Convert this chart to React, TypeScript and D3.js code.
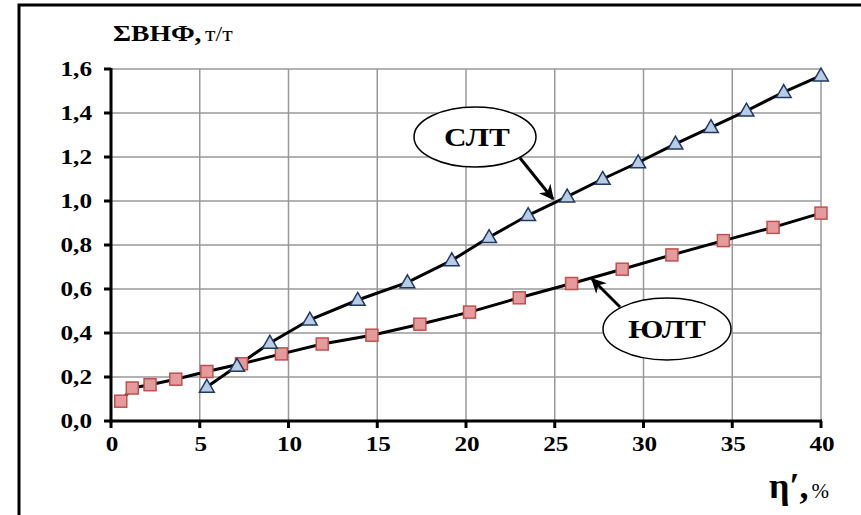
import React from "react";
import * as d3 from "d3";

// СЛТ (triangles)
const sltX = [5.4, 7.1, 8.95, 11.2, 13.9, 16.7, 19.2, 21.3, 23.5, 25.7, 27.7, 29.7, 31.8, 33.8, 35.8, 37.9, 40.0];
const sltY = [0.155, 0.25, 0.355, 0.46, 0.55, 0.63, 0.73, 0.835, 0.935, 1.02, 1.10, 1.175, 1.26, 1.335, 1.41, 1.495, 1.57];

// ЮЛТ (squares)
const yultX = [0.55, 1.2, 2.2, 3.65, 5.4, 7.35, 9.6, 11.9, 14.7, 17.4, 20.2, 23.0, 25.95, 28.8, 31.6, 34.5, 37.3, 40.0];
const yultY = [0.09, 0.15, 0.165, 0.19, 0.225, 0.26, 0.305, 0.35, 0.39, 0.44, 0.495, 0.56, 0.625, 0.69, 0.755, 0.82, 0.88, 0.945];

const xTicks = [0, 5, 10, 15, 20, 25, 30, 35, 40];
const yTicks = [0, 0.2, 0.4, 0.6, 0.8, 1.0, 1.2, 1.4, 1.6];

const FONT = "Liberation Serif, DejaVu Serif, serif";

// the source picture is a bit stretched sideways, so text is widened too
const T = ({ x, y, anchor = "start", size, sx = 1.2, bold = true, children }: any) => (
  <text transform={`translate(${x},${y}) scale(${sx},1)`} textAnchor={anchor}
    fontWeight={bold ? "bold" : "normal"} fontSize={size}>
    {children}
  </text>
);

export default function App() {
  const x = d3.scaleLinear().domain([0, 40]).range([111, 821]);
  const y = d3.scaleLinear().domain([0, 1.6]).range([421, 69]);
  const line = d3.line<[number, number]>().x(d => x(d[0])).y(d => y(d[1]));
  const slt = sltX.map((v, i) => [v, sltY[i]] as [number, number]);
  const yult = yultX.map((v, i) => [v, yultY[i]] as [number, number]);
  const fmt = (v: number) => v.toFixed(1).replace(".", ",");
  const tri = d3.symbol().type(d3.symbolTriangle).size(95)();

  return (
    <svg width={861} height={515} style={{ position: "absolute", left: 0, top: 0, background: "#fff", fontFamily: FONT }}>
      <defs>
        <marker id="arr" viewBox="0 0 10 10" refX="9" refY="5" markerWidth="5" markerHeight="5" orient="auto">
          <path d="M0,0 L10,5 L0,10 L3,5 Z" fill="#000" />
        </marker>
      </defs>
      {/* outer frame */}
      <path d="M19,515 L19,5 L861,5" fill="none" stroke="#000" strokeWidth={3} />

      {/* grid */}
      {yTicks.slice(1).map(t => (
        <line key={"gy" + t} x1={x(0)} x2={x(40)} y1={y(t)} y2={y(t)} stroke="#999" strokeWidth={1.5} />
      ))}
      {xTicks.slice(1).map(t => (
        <line key={"gx" + t} x1={x(t)} x2={x(t)} y1={y(0)} y2={y(1.6)} stroke="#999" strokeWidth={1.5} />
      ))}

      {/* axes */}
      <line x1={x(0)} x2={x(0)} y1={y(0) + 1.5} y2={y(1.6) - 1} stroke="#000" strokeWidth={3} />
      <line x1={x(0) - 1.5} x2={x(40) + 1} y1={y(0)} y2={y(0)} stroke="#000" strokeWidth={3} />
      {yTicks.map(t => (
        <g key={"ty" + t}>
          <line x1={x(0) - 7} x2={x(0)} y1={y(t)} y2={y(t)} stroke="#000" strokeWidth={3} />
          <T x={92} y={y(t) + 7} anchor="end" size={21}>{fmt(t)}</T>
        </g>
      ))}
      {xTicks.map(t => (
        <g key={"tx" + t}>
          <line x1={x(t)} x2={x(t)} y1={y(0)} y2={y(0) + 7} stroke="#000" strokeWidth={3} />
          <T x={x(t) + 1} y={451} anchor="middle" size={21}>{t}</T>
        </g>
      ))}

      {/* axis titles */}
      <T x={113} y={41} size={23}>
        <tspan>ΣВНФ,</tspan>
        <tspan fontWeight="normal" fontSize={20} dx={3}>т/т</tspan>
      </T>
      <T x={769} y={498} size={36} sx={1}>
        <tspan>η′,</tspan>
        <tspan fontWeight="normal" fontSize={21} dx={3}>%</tspan>
      </T>

      {/* lines */}
      <path d={line(slt) || ""} fill="none" stroke="#000" strokeWidth={3} />
      <path d={line(yult) || ""} fill="none" stroke="#000" strokeWidth={3} />

      {/* markers */}
      {yult.map((d, i) => (
        <rect key={"s" + i} x={x(d[0]) - 6} y={y(d[1]) - 6} width={12} height={12}
          fill="#e39b9b" stroke="#c0504d" strokeWidth={1.5} />
      ))}
      {slt.map((d, i) => (
        <path key={"t" + i} d={tri || ""} transform={`translate(${x(d[0])},${y(d[1]) + 1})`}
          fill="#b8cce4" stroke="#1f3864" strokeWidth={1.5} />
      ))}

      {/* callouts */}
      <line x1={520} y1={158} x2={553} y2={199} stroke="#000" strokeWidth={3} markerEnd="url(#arr)" />
      <ellipse cx={475} cy={137} rx={61} ry={30} fill="#fff" stroke="#000" strokeWidth={1.5} />
      <T x={477} y={146} anchor="middle" size={26}>СЛТ</T>

      <line x1={620} y1={307} x2={592} y2={279} stroke="#000" strokeWidth={3} markerEnd="url(#arr)" />
      <ellipse cx={667} cy={329} rx={64} ry={31} fill="#fff" stroke="#000" strokeWidth={1.5} />
      <T x={667} y={338} anchor="middle" size={26}>ЮЛТ</T>
    </svg>
  );
}
